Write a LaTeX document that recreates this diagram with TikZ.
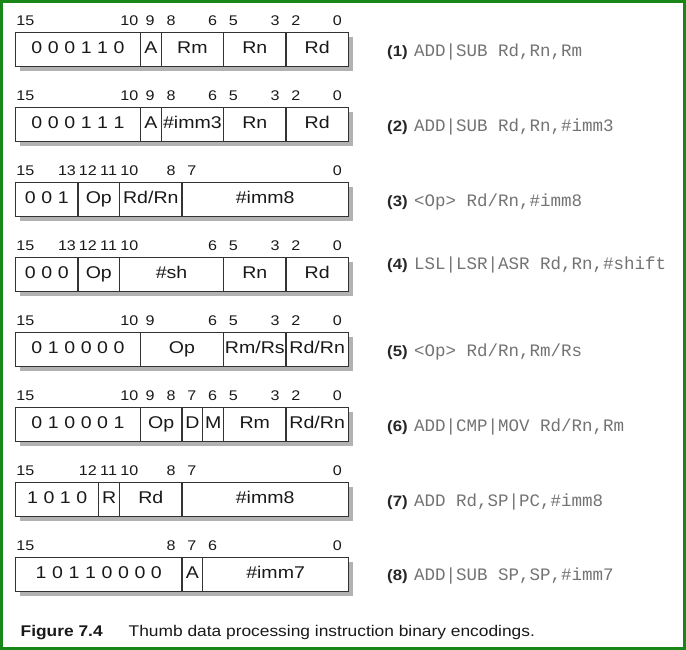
\documentclass[tikz,border=0pt]{standalone}
\usepackage{fontspec}
\setmainfont{Liberation Sans}[FakeStretch=1.12]
\newfontfamily\fieldfont{Liberation Sans}[FakeStretch=1.15]
\newfontfamily\codefont{Liberation Mono}
\definecolor{framegreen}{RGB}{24,135,24}

\begin{document}
\begin{tikzpicture}[x=1pt, y=-1pt,
        field/.style={draw=black!80, line width=1.2pt, fill=white, anchor=north west,
            minimum height=34pt, inner sep=0pt, text height=12pt, text depth=3.5pt, text=black!90,
            font={\fieldfont\fontsize{17}{17}\selectfont\spaceskip 5.6pt\relax}},
        bitnum/.style={inner sep=0pt, text=black!90, font={\fieldfont\fontsize{14}{14}\selectfont}},
        encnum/.style={anchor=base west, inner sep=0pt, text=black!85,
            font={\bfseries\fontsize{15}{15}\selectfont}},
        encname/.style={anchor=base west, inner sep=0pt, text=black!55,
            font={\codefont\fontsize{17.5}{17.5}\selectfont}}]
    \useasboundingbox (0, 0) rectangle (686, 650);
    \draw[framegreen, line width=2.6pt] (1.3, 1.3) rectangle (684.2, 648.2);
    % one row per encoding: number / top edge / bit labels / fields (hi/lo/text)
    \foreach \rownum/\ytop/\bits/\fields in {
        1/32/{15,10,9,8,6,5,3,2,0}/{15/10/{0 0 0 1 1 0},9/9/A,8/6/Rm,5/3/Rn,2/0/Rd},
        2/107/{15,10,9,8,6,5,3,2,0}/{15/10/{0 0 0 1 1 1},9/9/A,8/6/\#imm3,5/3/Rn,2/0/Rd},
        3/182/{15,13,12,11,10,8,7,0}/{15/13/{0 0 1},12/11/Op,10/8/{Rd/Rn},7/0/\#imm8},
        4/257/{15,13,12,11,10,6,5,3,2,0}/{15/13/{0 0 0},12/11/Op,10/6/\#sh,5/3/Rn,2/0/Rd},
        5/332/{15,10,9,6,5,3,2,0}/{15/10/{0 1 0 0 0 0},9/6/Op,5/3/{Rm/Rs},2/0/{Rd/Rn}},
        6/407/{15,10,9,8,7,6,5,3,2,0}/{15/10/{0 1 0 0 0 1},9/8/Op,7/7/D,6/6/M,5/3/Rm,2/0/{Rd/Rn}},
        7/482/{15,12,11,10,8,7,0}/{15/12/{1 0 1 0},11/11/R,10/8/Rd,7/0/\#imm8},
        8/557/{15,8,7,6,0}/{15/8/{1 0 1 1 0 0 0 0},7/7/A,6/0/\#imm7}} {
        \fill[black!30] (20, \ytop+5) rectangle (353, \ytop+39);
        \foreach \hi/\lo/\txt in \fields
            \node[field, minimum width={(\hi-\lo+1)*20.8pt}] (f\rownum-\hi) at ({15+(15-\hi)*20.8}, \ytop) {\txt};
        \foreach \bt in \bits
            \node[bitnum] (b\rownum-\bt) at ({15+(15.5-\bt)*20.8}, \ytop-11) {\bt};
    }
    % assembler forms on the right
    \node[encnum] (num1) at (387, 56.5) {(1)};
    \node[encname] (enc1) at ([xshift=6pt]num1.base east) {ADD|SUB Rd,Rn,Rm};
    \node[encnum] (num2) at (387, 131.5) {(2)};
    \node[encname] (enc2) at ([xshift=6pt]num2.base east) {ADD|SUB Rd,Rn,\#imm3};
    \node[encnum] (num3) at (387, 206.5) {(3)};
    \node[encname] (enc3) at ([xshift=6pt]num3.base east) {<Op> Rd/Rn,\#imm8};
    \node[encnum] (num4) at (387, 269.5) {(4)};
    \node[encname] (enc4) at ([xshift=6pt]num4.base east) {LSL|LSR|ASR Rd,Rn,\#shift};
    \node[encnum] (num5) at (387, 356.5) {(5)};
    \node[encname] (enc5) at ([xshift=6pt]num5.base east) {<Op> Rd/Rn,Rm/Rs};
    \node[encnum] (num6) at (387, 431.5) {(6)};
    \node[encname] (enc6) at ([xshift=6pt]num6.base east) {ADD|CMP|MOV Rd/Rn,Rm};
    \node[encnum] (num7) at (387, 506.5) {(7)};
    \node[encname] (enc7) at ([xshift=6pt]num7.base east) {ADD Rd,SP|PC,\#imm8};
    \node[encnum] (num8) at (387, 580.5) {(8)};
    \node[encname] (enc8) at ([xshift=6pt]num8.base east) {ADD|SUB SP,SP,\#imm7};
    % caption
    \node[anchor=base west, inner sep=0pt, text=black!90, font={\fontsize{15.5}{15.5}\selectfont}] (caption) at (20.5, 636)
        {\textbf{Figure 7.4}\hspace{26pt}Thumb data processing instruction binary encodings.};
\end{tikzpicture}
\end{document}
